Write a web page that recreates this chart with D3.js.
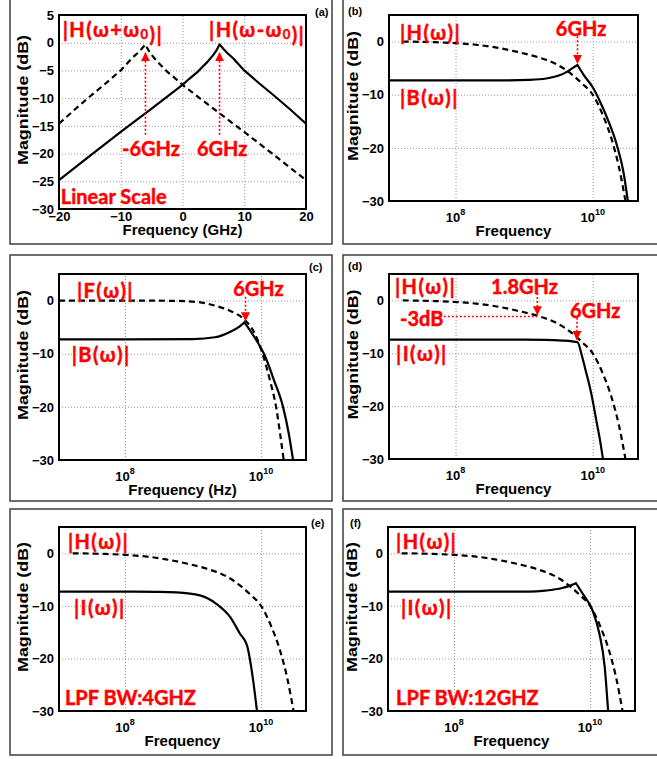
<!DOCTYPE html>
<html>
<head>
<meta charset="utf-8">
<script src="https://cdn.jsdelivr.net/npm/d3@7"></script>
<style>
  body { margin: 0; background: #fff; }
  svg text { font-family: "Liberation Sans", Arial, sans-serif; font-weight: bold; }
  svg text.ann { font-family: Lato, "Open Sans", sans-serif; fill: #f00; stroke: #f00; stroke-width: 0.45; }
</style>
</head>
<body>
<svg id="fig" width="657" height="759"></svg>
<script>

    // ---- axis ticks / domains ----
    const dbDomain = [-30, 5]
    const ghzDomain = [-20, 20]
    const hzDomain = [Math.pow(10, 7.03), Math.pow(10, 10.66)]
    const dbTicksLin = [5, 0, -5, -10, -15, -20, -25, -30]
    const ghzTicks = [-20, -10, 0, 10, 20]
    const dbTicksLog = [0, -10, -20, -30]
    const hzTicks = [1e8, 1e10]

    // ---- (a) linear frequency axis: [GHz, dB] ----
    const hPlusW0 = [[-20,-14.6],[-17.5,-12.1],[-15,-9.7],[-12.5,-7.4],[-10,-5.0],[-8.2,-2.8],[-7.3,-1.9],
        [-6.6,-1.1],[-6,-0.3],[-5.6,-1.2],[-5,-2.2],[-4,-3.5],[-2.5,-5.2],[-1,-6.6],[0,-7.6],
        [5,-11.9],[10,-16.1],[15,-20.4],[20,-24.8]]
    const hMinusW0 = [[-20,-24.8],[-15,-20.4],[-10,-16.1],[-5,-11.9],[0,-7.6],[1,-6.6],[2.5,-5.2],
        [4,-3.5],[5,-2.2],[5.6,-1.2],[6,-0.3],[6.6,-1.1],[7.3,-1.9],[8.2,-2.8],[10,-5.0],
        [12.5,-7.4],[15,-9.7],[17.5,-12.1],[20,-14.6]]

    // ---- (b)-(f) log frequency axis: [Hz, dB] ----
    const hMag = [[1.7e7,0],[5e7,-0.12],[1e8,-0.3],[2e8,-0.6],[4e8,-1.15],[8e8,-1.95],[1.6e9,-2.95],
        [3e9,-4.3],[5e9,-6.2],[7e9,-7.9],[1e10,-10],[1.4e10,-13.8],[1.9e10,-18.5],[2.4e10,-23.5],[3.0e10,-30]]
    const bMagB = [[1.07e7,-7.3],[1e8,-7.3],[5e8,-7.3],[1.2e9,-7.2],[2.1e9,-6.95],[3.2e9,-6.4],[4.2e9,-5.7],
        [5.2e9,-4.9],[6e9,-4.4],[7.5e9,-6.4],[1e10,-8.6],[1.3e10,-11.5],[1.7e10,-15],[2.25e10,-19.5],
        [2.8e10,-24.5],[3.25e10,-30]]
    const fMagC = [[1.07e7,0],[1e8,0],[5e8,-0.05],[1.2e9,-0.3],[2.1e9,-0.95],[3.6e9,-2.0],[5.7e9,-3.6],
        [8e9,-6.1],[1.05e10,-10],[1.35e10,-15],[1.66e10,-20],[1.9e10,-25],[2.15e10,-30]]
    const bMagC = [[1.07e7,-7.3],[1e8,-7.3],[1e9,-7.25],[2.1e9,-6.9],[3.6e9,-5.8],[4.8e9,-4.9],[5.7e9,-4.1],
        [8e9,-6.9],[1.12e10,-10.2],[1.55e10,-15],[2.1e10,-20],[2.55e10,-25],[2.95e10,-30]]
    const iMagD = [[1.07e7,-7.4],[1e8,-7.4],[1e9,-7.4],[2e9,-7.45],[3.6e9,-7.6],[5e9,-7.75],[6e9,-7.9],
        [7e9,-10.6],[7.9e9,-13.3],[9e9,-16.2],[1e10,-19],[1.15e10,-23.3],[1.26e10,-26],[1.41e10,-30]]
    const iMagE = [[1.07e7,-7.3],[1e8,-7.3],[3e8,-7.35],[5.7e8,-7.45],[1.26e9,-8.0],[2.2e9,-9.6],
        [3.5e9,-12.1],[4.9e9,-15.3],[6.2e9,-17.5],[7.4e9,-22.9],[8.7e9,-30]]
    const iMagF = [[1.07e7,-7.3],[1e8,-7.3],[1.26e9,-7.3],[2.2e9,-7.1],[3.9e9,-6.6],[5.2e9,-6.1],
        [6.2e9,-5.7],[7.8e9,-7.7],[1.09e10,-10.9],[1.37e10,-15.3],[1.64e10,-21.6],[1.84e10,-30]]


    const svg = d3.select('#fig')
    const red = '#f00'

    svg.append('defs').append('marker')
        .attr('id', 'arr')
        .attr('viewBox', '0 0 10 10')
        .attr('refX', 10).attr('refY', 5)
        .attr('markerWidth', 9).attr('markerHeight', 9)
        .attr('markerUnits', 'userSpaceOnUse')
        .attr('orient', 'auto')
        .append('path')
            .attr('d', 'M0,0L10,5L0,10Z')
            .attr('fill', red)

    // panel layout: plot box [x0,y0,x1,y1], outer frame, tag
    const panels = [
        { id: 'a', lin: true, box: [59,15,306,209], frame: [10,-5,332,244], tag: '(a)', tagXY: [315,16],
          xlabel: 'Frequency (GHz)',
          series: [{ d: hPlusW0, dash: true }, { d: hMinusW0 }],
          texts: [
            { x: -19.4, y: 2.4, parts: ['|H(ω+ω', ['0'], ')|'] },
            { x: 4.3, y: 2.4, parts: ['|H(ω-ω', ['0'], ')|'] },
            { x: -9.8, y: -19.0, parts: ['-6GHz'] },
            { x: 2.35, y: -19.0, parts: ['6GHz'] },
            { x: -19.7, y: -27.6, parts: ['Linear Scale'] } ],
          arrows: [ { x: -6, from: -16.6, to: -1.7 }, { x: 6, from: -16.6, to: -1.7 } ] },
        { id: 'b', box: [389,15,638,201], frame: [343,-5,680,244], tag: '(b)', tagXY: [348,15],
          xlabel: 'Frequency',
          series: [{ d: hMag, dash: true }, { d: bMagB }],
          texts: [
            { x: 1.55e7, y: 1.8, parts: ['|H(ω)|'] },
            { x: 2.9e9, y: 2.5, parts: ['6GHz'] },
            { x: 1.55e7, y: -10.4, parts: ['|B(ω)|'] } ],
          arrows: [ { x: 6e9, from: 1.0, to: -4.2 } ] },
        { id: 'c', box: [59,274,306,460], frame: [10,255,332,501], tag: '(c)', tagXY: [309,271],
          xlabel: 'Frequency (Hz)',
          series: [{ d: fMagC, dash: true }, { d: bMagC }],
          texts: [
            { x: 1.97e7, y: 2.0, parts: ['|F(ω)|'] },
            { x: 3.9e9, y: 2.4, parts: ['6GHz'] },
            { x: 1.65e7, y: -10.05, parts: ['|B(ω)|'] } ],
          arrows: [ { x: 5.9e9, from: 0.7, to: -3.9 } ] },
        { id: 'd', box: [389,274,638,459], frame: [343,255,680,501], tag: '(d)', tagXY: [348,270],
          xlabel: 'Frequency',
          series: [{ d: hMag, dash: true }, { d: iMagD }],
          texts: [
            { x: 1.31e7, y: 2.7, parts: ['|H(ω)|'] },
            { x: 3.3e8, y: 2.7, parts: ['1.8GHz'] },
            { x: 1.55e7, y: -3.3, parts: ['-3dB'] },
            { x: 4.66e9, y: -1.8, parts: ['6GHz'] },
            { x: 1.36e7, y: -9.95, parts: ['|I(ω)|'] } ],
          arrows: [ { x: 1.56e9, from: 1.4, to: -2.8 }, { x: 5.9e9, from: -3.3, to: -7.5 } ],
          hlines: [ { x1: 5.9e7, x2: 1.56e9, y: -3.05 } ] },
        { id: 'e', box: [59,527,306,711], frame: [10,509,332,755], tag: '(e)', tagXY: [311,527],
          xlabel: 'Frequency',
          series: [{ d: hMag, dash: true }, { d: iMagE }],
          texts: [
            { x: 1.45e7, y: 2.3, parts: ['|H(ω)|'] },
            { x: 1.78e7, y: -10.2, parts: ['|I(ω)|'] },
            { x: 1.31e7, y: -27.3, parts: ['LPF BW:4GHZ'] } ],
          arrows: [] },
        { id: 'f', box: [388,527,635,711], frame: [343,509,680,755], tag: '(f)', tagXY: [350,527],
          xlabel: 'Frequency',
          series: [{ d: hMag, dash: true }, { d: iMagF }],
          texts: [
            { x: 1.41e7, y: 2.3, parts: ['|H(ω)|'] },
            { x: 1.66e7, y: -10.2, parts: ['|I(ω)|'] },
            { x: 1.41e7, y: -27.3, parts: ['LPF BW:12GHZ'] } ],
          arrows: [] }
    ]

    // split a curve at its local maxima so peaks stay sharp
    var pieces = function(pts) {
        const out = []
        let s = 0
        for (let i = 1; i < pts.length - 1; i++) {
            if (pts[i][1] > pts[i-1][1] && pts[i][1] > pts[i+1][1]) { out.push(pts.slice(s, i+1)); s = i }
        }
        out.push(pts.slice(s))
        return out
    }

    panels.forEach(function(p) {
        const [x0, y0, x1, y1] = p.box
        const x = p.lin ? d3.scaleLinear().domain(ghzDomain).range([x0, x1])
                        : d3.scaleLog().domain(hzDomain).range([x0, x1])
        const y = d3.scaleLinear().domain(dbDomain).range([y1, y0])
        const xt = p.lin ? ghzTicks : hzTicks
        const yt = p.lin ? dbTicksLin : dbTicksLog
        const g = svg.append('g')

        // outer frame
        g.append('rect')
            .attr('x', p.frame[0]).attr('y', p.frame[1])
            .attr('width', p.frame[2] - p.frame[0]).attr('height', p.frame[3] - p.frame[1])
            .attr('fill', 'none').attr('stroke', '#4a4a4a').attr('stroke-width', 1.6)

        g.append('text').attr('x', p.tagXY[0]).attr('y', p.tagXY[1])
            .attr('font-size', 11).text(p.tag)

        // dotted grid
        g.append('g').attr('class', 'grid').attr('transform', `translate(0,${y1})`)
            .call(d3.axisBottom(x).tickValues(xt).tickSize(-(y1 - y0)).tickFormat(''))
        g.append('g').attr('class', 'grid').attr('transform', `translate(${x0},0)`)
            .call(d3.axisLeft(y).tickValues(yt).tickSize(-(x1 - x0)).tickFormat(''))
        g.selectAll('.grid .domain').remove()
        g.selectAll('.grid line').attr('stroke', '#999').attr('stroke-dasharray', '1,2')

        // y tick labels
        const ya = g.append('g').attr('transform', `translate(${x0},0)`)
            .call(d3.axisLeft(y).tickValues(yt).tickSize(0).tickPadding(5))
        ya.select('.domain').remove()
        ya.attr('font-family', null).attr('font-size', 13)

        // x tick labels
        if (p.lin) {
            const xa = g.append('g').attr('transform', `translate(0,${y1})`)
                .call(d3.axisBottom(x).tickValues(xt).tickSize(0).tickPadding(3))
            xa.select('.domain').remove()
            xa.attr('font-family', null).attr('font-size', 13)
        } else {
            const lt = g.selectAll('.xl').data(xt).join('text')
                .attr('x', d => x(d)).attr('y', y1 + 20.5)
                .attr('text-anchor', 'middle').attr('font-size', 13)
            lt.append('tspan').text('10')
            lt.append('tspan').attr('dy', -7).attr('font-size', 9).text(d => Math.round(Math.log10(d)))
        }

        // axis titles
        g.append('text')
            .attr('x', (x0 + x1) / 2).attr('y', y1 + (p.lin ? 25.5 : 35))
            .attr('text-anchor', 'middle').attr('font-size', 15)
            .text(p.xlabel)
        g.append('text')
            .attr('transform', `translate(${x0 - 37},${(y0 + y1) / 2 - 12}) rotate(-90)`)
            .attr('text-anchor', 'middle').attr('dominant-baseline', 'central')
            .attr('font-size', 15)
            .attr('textLength', 130).attr('lengthAdjust', 'spacingAndGlyphs')
            .text('Magnitude (dB)')

        // curves
        g.append('clipPath').attr('id', 'clip' + p.id)
            .append('rect').attr('x', x0).attr('y', y0).attr('width', x1 - x0).attr('height', y1 - y0)
        const line = d3.line()
            .x(d => x(d[0])).y(d => y(d[1]))
            .curve(p.lin ? d3.curveLinear : d3.curveMonotoneX)
        p.series.forEach(function(s) {
            const dstr = p.lin ? line(s.d) : pieces(s.d).map(line).join('')
            g.append('path')
                .attr('clip-path', `url(#clip${p.id})`)
                .attr('d', dstr)
                .attr('fill', 'none').attr('stroke', '#000').attr('stroke-width', 2.2)
                .attr('stroke-linejoin', 'round')
                .attr('stroke-linecap', s.dash ? 'butt' : 'round')
                .attr('stroke-dasharray', s.dash ? '6,4' : null)
        })

        // axes box
        g.append('rect')
            .attr('x', x0).attr('y', y0).attr('width', x1 - x0).attr('height', y1 - y0)
            .attr('fill', 'none').attr('stroke', '#000').attr('stroke-width', 2)

        // red annotations (the |..| labels are set a little wider, as in the original)
        p.texts.forEach(function(t) {
            const tx = g.append('text').attr('class', 'ann')
                .attr('x', x(t.x)).attr('y', y(t.y))
                .attr('dominant-baseline', 'central')
                .attr('font-size', 20)
                .attr('letter-spacing', t.parts[0][0] === '|' ? 1.4 : 0)
            t.parts.forEach(function(part) {
                if (Array.isArray(part)) {
                    tx.append('tspan').attr('font-size', 13).attr('dy', 5).text(part[0])
                    tx.append('tspan').attr('dy', -5).text('')
                } else {
                    tx.append('tspan').text(part)
                }
            })
        })
        p.arrows.forEach(function(a) {
            g.append('line')
                .attr('x1', x(a.x)).attr('x2', x(a.x))
                .attr('y1', y(a.from)).attr('y2', y(a.to))
                .attr('stroke', red).attr('stroke-width', 1.6)
                .attr('stroke-dasharray', '2,2')
                .attr('marker-end', 'url(#arr)')
        })
        ;(p.hlines || []).forEach(function(h) {
            g.append('line')
                .attr('x1', x(h.x1)).attr('x2', x(h.x2))
                .attr('y1', y(h.y)).attr('y2', y(h.y))
                .attr('stroke', red).attr('stroke-width', 1.6)
                .attr('stroke-dasharray', '2,2')
        })
    })

</script>
</body>
</html>
